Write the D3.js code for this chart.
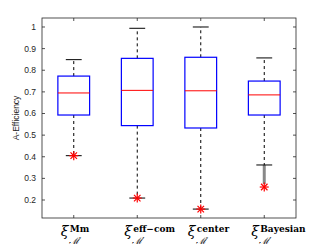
<!DOCTYPE html>
<html>
<head>
<meta charset="utf-8">
<script src="https://cdn.jsdelivr.net/npm/d3@7"></script>
<style>
  body { margin: 0; background: #fff; }
  svg { display: block; }
</style>
</head>
<body>
<svg id="chart" width="327" height="245"></svg>
<script>
// values
var labels = ["Mm", "eff\u2212com", "center", "Bayesian"];
var q1 = [0.593, 0.544, 0.533, 0.593];
var medians = [0.695, 0.707, 0.705, 0.686];
var q3 = [0.773, 0.855, 0.860, 0.750];
var whiskerHi = [0.849, 0.994, 1.0, 0.857];
var whiskerLo = [0.405, 0.209, 0.158, 0.362];
var starPoints = [0.405, 0.209, 0.158, 0.260];
var yTicks = [0.2, 0.3, 0.4, 0.5, 0.6, 0.7, 0.8, 0.9, 1];

var margin = { left: 42, right: 31, top: 18, bottom: 27 };
var width = 327 - margin.left - margin.right;
var height = 245 - margin.top - margin.bottom;
var axisColor = "#262626";

var svg = d3.select("#chart");
var g = svg.append("g")
  .attr("transform", "translate(" + margin.left + "," + margin.top + ")");

var x = d3.scaleLinear().domain([0.5, 4.5]).range([0, width]);
var y = d3.scaleLinear().domain([0.1168, 1.0416]).range([height, 0]);

var boxW = x(1.25) - x(1);
var capW = x(1.125) - x(1);

// frame
g.append("rect")
  .attr("width", width)
  .attr("height", height)
  .attr("fill", "none")
  .attr("stroke", axisColor)
  .attr("stroke-width", 0.8);

// y ticks left + right, inside
yTicks.forEach(function (t) {
  g.append("line").attr("x1", 0).attr("x2", 3)
    .attr("y1", y(t)).attr("y2", y(t))
    .attr("stroke", axisColor).attr("stroke-width", 0.8);
  g.append("line").attr("x1", width - 3).attr("x2", width)
    .attr("y1", y(t)).attr("y2", y(t))
    .attr("stroke", axisColor).attr("stroke-width", 0.8);
  g.append("text")
    .attr("x", -6).attr("y", y(t))
    .attr("dy", "0.35em")
    .attr("text-anchor", "end")
    .attr("font-family", "Liberation Sans, Arial, sans-serif")
    .attr("font-size", 8.5)
    .attr("fill", axisColor)
    .text(d3.format("~g")(t));
});

// x ticks top + bottom, inside
labels.forEach(function (l, i) {
  var cx = x(i + 1);
  g.append("line").attr("x1", cx).attr("x2", cx)
    .attr("y1", height).attr("y2", height - 3)
    .attr("stroke", axisColor).attr("stroke-width", 0.8);
  g.append("line").attr("x1", cx).attr("x2", cx)
    .attr("y1", 0).attr("y2", 3)
    .attr("stroke", axisColor).attr("stroke-width", 0.8);
});

// y label
g.append("text")
  .attr("transform", "translate(-23," + (height / 2) + ") rotate(-90)")
  .attr("text-anchor", "middle")
  .attr("font-family", "Liberation Sans, Arial, sans-serif")
  .attr("font-size", 8.5)
  .attr("fill", axisColor)
  .text("A-Efficiency");

// boxes
labels.forEach(function (l, i) {
  var cx = x(i + 1);

  // whiskers (dashed)
  g.append("line").attr("x1", cx).attr("x2", cx)
    .attr("y1", y(q3[i])).attr("y2", y(whiskerHi[i]))
    .attr("stroke", "#000").attr("stroke-width", 1)
    .attr("stroke-dasharray", "3,3");
  g.append("line").attr("x1", cx).attr("x2", cx)
    .attr("y1", y(q1[i])).attr("y2", y(whiskerLo[i]))
    .attr("stroke", "#000").attr("stroke-width", 1)
    .attr("stroke-dasharray", "3,3");

  // grey connector when the star sits below the whisker
  if (starPoints[i] < whiskerLo[i]) {
    g.append("line").attr("x1", cx).attr("x2", cx)
      .attr("y1", y(whiskerLo[i])).attr("y2", y(starPoints[i]) - 3)
      .attr("stroke", "#888").attr("stroke-width", 3);
  }

  // caps
  [whiskerHi[i], whiskerLo[i]].forEach(function (v) {
    g.append("line").attr("x1", cx - capW).attr("x2", cx + capW)
      .attr("y1", y(v)).attr("y2", y(v))
      .attr("stroke", "#000").attr("stroke-width", 1);
  });

  // box
  g.append("rect")
    .attr("x", cx - boxW).attr("y", y(q3[i]))
    .attr("width", boxW * 2).attr("height", y(q1[i]) - y(q3[i]))
    .attr("fill", "none")
    .attr("stroke", "#0000ff").attr("stroke-width", 1.2);

  // median
  g.append("line").attr("x1", cx - boxW).attr("x2", cx + boxW)
    .attr("y1", y(medians[i])).attr("y2", y(medians[i]))
    .attr("stroke", "#ff0000").attr("stroke-width", 1);

  // star marker
  var sy = y(starPoints[i]), r = 4.5, d = r * 0.72;
  var star = g.append("g").attr("stroke", "#ff0000").attr("stroke-width", 1.2);
  star.append("line").attr("x1", cx - r).attr("x2", cx + r).attr("y1", sy).attr("y2", sy);
  star.append("line").attr("x1", cx).attr("x2", cx).attr("y1", sy - r).attr("y2", sy + r);
  star.append("line").attr("x1", cx - d).attr("x2", cx + d).attr("y1", sy - d).attr("y2", sy + d);
  star.append("line").attr("x1", cx - d).attr("x2", cx + d).attr("y1", sy + d).attr("y2", sy - d);
});

// x tick labels: xi, bold superscript, script-M subscript (left aligned near tick)
labels.forEach(function (l, i) {
  var cx = x(i + 1);
  var lab = g.append("g")
    .attr("transform", "translate(" + (cx - 13) + "," + height + ")")
    .attr("font-family", "DejaVu Serif, Liberation Serif, serif")
    .attr("fill", "#000");
  lab.append("text")
    .attr("x", 0).attr("y", 18)
    .attr("font-size", 14).attr("font-style", "italic")
    .text("\u03be");
  lab.append("text")
    .attr("x", 9).attr("y", 13.5)
    .attr("font-size", 9).attr("font-weight", "bold")
    .text(l);
  lab.append("text")
    .attr("x", 8).attr("y", 25.5)
    .attr("font-size", 9).attr("font-style", "italic")
    .text("\u2133\u2032");
});
</script>
</body>
</html>
